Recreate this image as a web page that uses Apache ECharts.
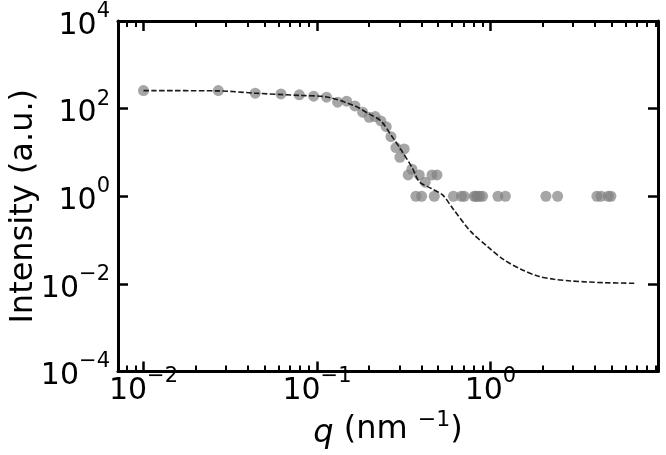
<!DOCTYPE html>
<html>
<head>
<meta charset="utf-8">
<script src="https://cdn.jsdelivr.net/npm/echarts@6/dist/echarts.min.js"></script>
<style>
  html, body { margin: 0; padding: 0; background: #fff; }
  #chart { width: 666px; height: 455px; }
</style>
</head>
<body>
<div id="chart"></div>
<script>
// measured points (q in nm^-1, intensity a.u.)
const qPoints = [0.01, 0.027, 0.0441, 0.062, 0.0791, 0.0957, 0.1137, 0.1316, 0.1483, 0.1656,
  0.1834, 0.2, 0.2166, 0.2337, 0.2508, 0.267, 0.2853, 0.3007, 0.3185, 0.3357,
  0.3527, 0.372, 0.389, 0.4013, 0.4209, 0.4603, 0.4745, 0.492, 0.612, 0.6806,
  0.706, 0.8065, 0.825, 0.8437, 0.87, 0.9016, 1.105, 1.22, 2.089, 2.44,
  4.11, 4.34, 4.78, 4.95];
const intensityPoints = [258, 258, 225, 217, 206, 192, 182, 140, 148, 115,
  82.8, 63.6, 65.7, 52.4, 38.8, 22.9, 12.9, 7.76, 12.0, 3.06,
  4.13, 1, 3.06, 1, 2.09, 3.06, 1, 3.06, 1, 1,
  1, 1, 1, 1, 1, 1, 1, 1, 1, 1,
  1, 1, 1, 1];

// fitted curve
const qFit = [0.01, 0.027, 0.0441, 0.0791, 0.1137, 0.1656, 0.1995, 0.2337, 0.267, 0.311,
  0.3551, 0.3888, 0.454, 0.53, 0.6055, 0.772, 0.964, 1.201, 1.499, 1.871,
  2.332, 2.911, 3.63, 4.53, 6.75];
const intensityFit = [258, 254, 225, 200, 185, 115, 75.7, 52.4, 25.1, 10.3,
  4.36, 2.15, 1.52, 1.07, 0.532, 0.1555, 0.0707, 0.0351, 0.0216, 0.0151,
  0.01274, 0.01165, 0.01105, 0.01065, 0.0103];

const xMajor = [0.01, 0.1, 1];
const xMajorExp = ["\u22122", "\u22121", "0"];
const xMinor = [0.008, 0.009, 0.02, 0.03, 0.04, 0.05, 0.06, 0.07, 0.08, 0.09,
  0.2, 0.3, 0.4, 0.5, 0.6, 0.7, 0.8, 0.9, 2, 3, 4, 5, 6, 7, 8, 9];
const yMajor = [1e-4, 1e-2, 1, 1e2, 1e4];
const yMajorExp = ["\u22124", "\u22122", "0", "2", "4"];

const X_MIN = 0.00713;
const X_MAX = 9.25;
const FONT = "DejaVu Sans";

function expLabel(ticks, exps) {
  return (value) => {
    const i = ticks.findIndex((t) => Math.abs(Math.log10(t) - Math.log10(value)) < 1e-6);
    return i < 0 ? "" : `{b|10}{s|${exps[i]}}`;
  };
}

const labelRich = {
  b: { fontSize: 30, fontFamily: FONT, color: "#000", lineHeight: 40, verticalAlign: "bottom" },
  s: { fontSize: 21, fontFamily: FONT, color: "#000", lineHeight: 20, verticalAlign: "top" }
};

function xAxisDef(position, ticks, length, width, withLine, withLabel) {
  return {
    type: "log",
    logBase: 10,
    position,
    min: X_MIN,
    max: X_MAX,
    axisLine: { show: withLine, onZero: false, lineStyle: { color: "#000", width: 3 } },
    axisTick: { show: true, inside: true, customValues: ticks, length, lineStyle: { color: "#000", width } },
    axisLabel: withLabel
      ? { show: true, customValues: xMajor, margin: -5, formatter: expLabel(xMajor, xMajorExp), rich: labelRich }
      : { show: false },
    splitLine: { show: false },
    minorTick: { show: false }
  };
}

const chart = echarts.init(document.getElementById("chart"), null, { renderer: "canvas" });

const xAxes = [
  xAxisDef("bottom", xMajor, 10, 2.5, true, true),
  xAxisDef("bottom", xMinor, 6, 2, false, false),
  xAxisDef("top", xMajor, 10, 2.5, true, false),
  xAxisDef("top", xMinor, 6, 2, false, false)
];
xAxes[0].name = "{i|q} (nm {s|\u22121})";
xAxes[0].nameLocation = "middle";
xAxes[0].nameGap = 38;
xAxes[0].nameMoveOverlap = false;
xAxes[0].nameTextStyle = {
  fontSize: 32, fontFamily: FONT, color: "#000", lineHeight: 40,
  rich: {
    i: { fontSize: 32, fontFamily: FONT, fontStyle: "italic", color: "#000", lineHeight: 40, verticalAlign: "bottom" },
    s: { fontSize: 22, fontFamily: FONT, color: "#000", lineHeight: 22, verticalAlign: "top" }
  }
};

function yAxisDef(position, withLabel) {
  return {
    type: "log",
    logBase: 10,
    position,
    min: 1e-4,
    max: 1e4,
    axisLine: { show: true, onZero: false, lineStyle: { color: "#000", width: 3 } },
    axisTick: { show: true, inside: true, customValues: yMajor, length: 10, lineStyle: { color: "#000", width: 2.5 } },
    axisLabel: withLabel
      ? { show: true, customValues: yMajor, margin: 8, formatter: expLabel(yMajor, yMajorExp), rich: labelRich }
      : { show: false },
    splitLine: { show: false },
    minorTick: { show: false }
  };
}

const yAxes = [yAxisDef("left", true), yAxisDef("right", false)];
yAxes[0].name = "Intensity (a.u.)";
yAxes[0].nameLocation = "middle";
yAxes[0].nameGap = 74;
yAxes[0].nameMoveOverlap = false;
yAxes[0].nameTextStyle = { fontSize: 32, fontFamily: FONT, color: "#000", lineHeight: 40, padding: [0, 20, 0, 0] };

chart.setOption({
  animation: false,
  grid: { left: 118, right: 8, top: 21, bottom: 83.5, outerBoundsMode: "none", containLabel: false },
  xAxis: xAxes,
  yAxis: yAxes,
  series: [
    {
      type: "scatter",
      xAxisIndex: 0,
      yAxisIndex: 0,
      symbol: "circle",
      symbolSize: 11,
      itemStyle: { color: "#808080", opacity: 0.7 },
      data: qPoints.map((q, i) => [q, intensityPoints[i]]),
      z: 2
    },
    {
      type: "line",
      xAxisIndex: 0,
      yAxisIndex: 0,
      smooth: 0.3,
      showSymbol: false,
      lineStyle: { color: "#1a1a1a", width: 1.6, type: [5.5, 2.4] },
      data: qFit.map((q, i) => [q, intensityFit[i]]),
      z: 3
    }
  ]
});
</script>
</body>
</html>
